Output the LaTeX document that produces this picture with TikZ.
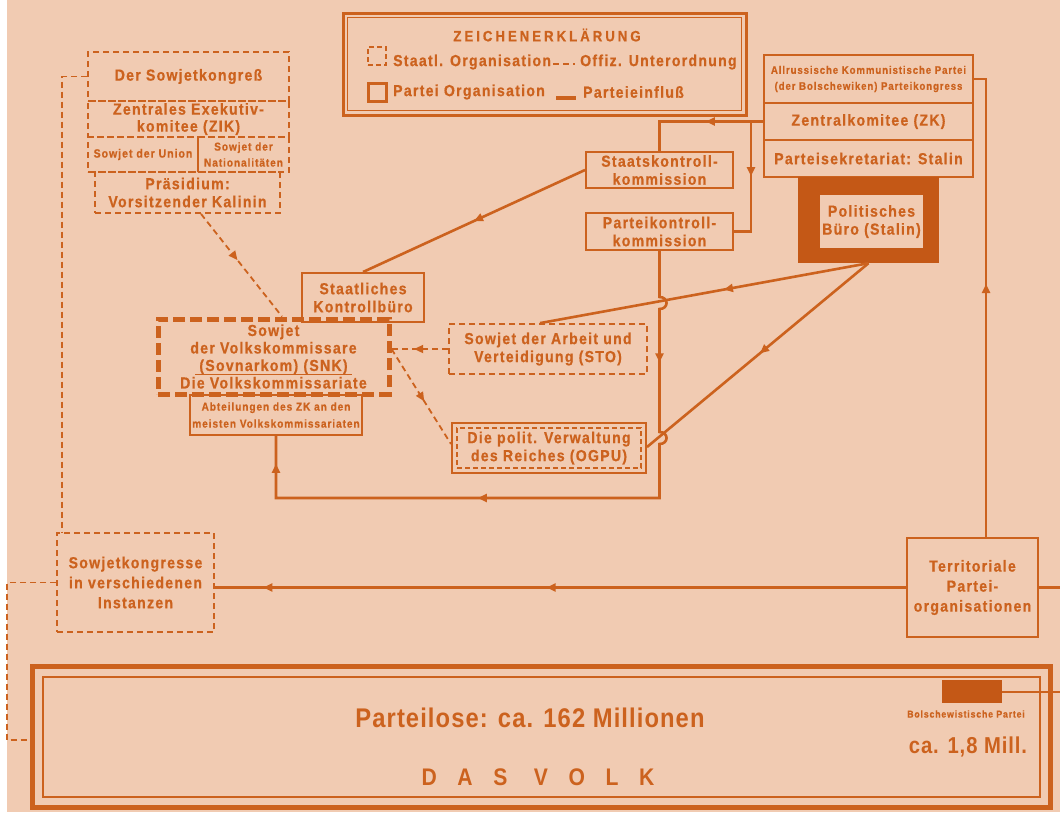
\documentclass[tikz,border=0pt]{standalone}
\usepackage{fontspec}
\setmainfont{Liberation Sans}[LetterSpace=8, FakeStretch=0.88, FakeBold=0.6]
\newfontfamily\bigf{Liberation Sans}[LetterSpace=4, FakeStretch=0.88]
\newfontfamily\volkf{Liberation Sans}[LetterSpace=86, FakeStretch=0.88]
\newfontfamily\titf{Liberation Sans}[LetterSpace=20, FakeStretch=0.88, FakeBold=0.6]
\usetikzlibrary{arrows.meta,decorations.markings,calc}
\definecolor{bg}{RGB}{241,203,178}
\definecolor{ink}{RGB}{204,98,30}
\definecolor{pbfill}{RGB}{196,88,22}
\tikzset{
 every node/.style={text=ink},
 >={Triangle[length=9pt,width=8pt]},
 wh/.style 2 args={minimum width=#1pt, minimum height=#2pt},
 mtxt/.style={font=\bfseries\fontsize{16}{18}\selectfont, align=center, inner sep=0pt},
 stxt/.style={font=\bfseries\fontsize{11}{16}\selectfont, align=center, inner sep=0pt},
 pbox/.style={draw=ink, line width=2pt, rectangle, inner sep=0pt},
 sbox/.style={draw=ink, line width=1.8pt, dash pattern=on 6pt off 4pt, rectangle, inner sep=0pt},
 pline/.style={draw=ink, line width=2.6pt},
 sline/.style={draw=ink, line width=1.8pt, dash pattern=on 6pt off 4pt},
 arrs/.style={postaction={decorate,decoration={markings,#1}}},
}
\begin{document}
\begin{tikzpicture}[x=1pt,y=-1pt]
\fill[white] (0,0) rectangle (1060,812);
\fill[bg] (7,0) rectangle (1060,812);
\useasboundingbox (0,0) rectangle (1060,812);

% ---------- legend
\node[pbox, line width=3pt, wh={403}{102}] (leg) at (544.5,64) {};
\draw[ink, line width=1.2pt] ($(leg.north west)+(6,6)$) rectangle ($(leg.south east)+(-6,-6)$);
\node[font={\titf\bfseries\fontsize{15}{18}\selectfont}] (legt) at (547,35) {ZEICHENERKLÄRUNG};
\node[sbox, dash pattern=on 5pt off 3pt, wh={18}{18}] (lsq1) at (377,56) {};
\node[mtxt, anchor=west] (l1) at (393,62) {Staatl. Organisation};
\coordinate (ld1) at (553,64); \coordinate (ld2) at (575,64);
\draw[sline] (ld1) -- (ld2);
\node[mtxt, anchor=west] (l2) at (580,62) {Offiz. Unterordnung};
\node[pbox, line width=3pt, wh={18}{18}] (lsq2) at (377,92) {};
\node[mtxt, anchor=west] (l3) at (393,92) {Partei Organisation};
\coordinate (lp1) at (556,98); \coordinate (lp2) at (576,98);
\draw[pline, line width=3.5pt] (lp1) -- (lp2);
\node[mtxt, anchor=west] (l4) at (583,92) {Parteieinfluß};

% ---------- state cluster (left)
\node[sbox, mtxt, wh={201}{49}] (kon) at (188.5,76.5) {Der Sowjetkongreß};
\node[sbox, mtxt, font=\bfseries\fontsize{16}{17}\selectfont, wh={201}{36}] (zik) at (188.5,119) {Zentrales Exekutiv-\\komitee (ZIK)};
\node[sbox, stxt, font=\bfseries\fontsize{12}{14}\selectfont, wh={110}{35}] (uni) at (143,154.5) {Sowjet der Union};
\node[sbox, stxt, font=\bfseries\fontsize{11.5}{16}\selectfont, wh={91}{35}] (nat) at (243.5,154.5) {Sowjet der\\Nationalitäten};
\node[sbox, mtxt, wh={185}{41}] (pra) at (187.5,192.5) {Präsidium:\\Vorsitzender Kalinin};

\node[sbox, mtxt, font=\bfseries\fontsize{16}{20}\selectfont, wh={157}{99}] (skg) at (135.5,582.5) {Sowjetkongresse\\in verschiedenen\\Instanzen};

\node[mtxt, draw=ink, line width=5pt, dash pattern=on 12pt off 5pt, font=\bfseries\fontsize{16}{17.5}\selectfont, wh={231}{75}] (snk) at (273.5,356.5) {Sowjet\\der Volkskommissare\\(Sovnarkom) (SNK)\\Die Volkskommissariate};
\coordinate (u1) at (195,374); \coordinate (u2) at (352,374);
\draw[ink, line width=0.8pt] (u1) -- (u2);
\node[pbox, stxt, line width=1.6pt, font=\bfseries\fontsize{11.5}{17}\selectfont, wh={172}{40}] (abt) at (276,415) {Abteilungen des ZK an den\\meisten Volkskommissariaten};
\node[pbox, mtxt, wh={122}{49}] (skb) at (363,297.5) {Staatliches\\Kontrollbüro};
\node[sbox, mtxt, wh={198}{50}] (sto) at (548,349) {Sowjet der Arbeit und\\Verteidigung (STO)};
\node[pbox, wh={194}{50}] (ogpu) at (549,448) {};
\node[sbox, line width=1.5pt, dash pattern=on 5pt off 3pt, mtxt, wh={184}{40}] (ogpui) at (549,448) {Die polit. Verwaltung\\des Reiches (OGPU)};

% ---------- party cluster (right)
\node[pbox, stxt, wh={209}{48}] (akp) at (868.5,79) {Allrussische Kommunistische Partei\\(der Bolschewiken) Parteikongress};
\node[pbox, mtxt, wh={209}{37}] (zk) at (868.5,121.5) {Zentralkomitee (ZK)};
\node[pbox, mtxt, wh={209}{37}] (sek) at (868.5,158.5) {Parteisekretariat: Stalin};
\node[fill=pbfill, rectangle, inner sep=0pt, wh={141}{86}] (pb) at (868.5,220) {};
\node[fill=bg, mtxt, wh={103}{53}] (pbi) at (871.5,221.5) {Politisches\\Büro (Stalin)};
\node[pbox, mtxt, wh={147}{36}] (sk) at (659.5,170) {Staatskontroll-\\kommission};
\node[pbox, mtxt, wh={147}{37}] (pk) at (659.5,231.5) {Parteikontroll-\\kommission};
\node[pbox, mtxt, font=\bfseries\fontsize{16}{20}\selectfont, wh={131}{99}] (terr) at (972.5,587.5) {Territoriale\\Partei-\\organisationen};

% ---------- the people
\node[pbox, line width=5pt, wh={1018}{141}] (volk) at (541,736.5) {};
\node[pbox, line width=2.5pt, wh={997}{120}] (volki) at (541.5,737) {};
\node[font={\bigf\bfseries\fontsize{27}{30}\selectfont}] (pl) at (530,718) {Parteilose: ca. 162 Millionen};
\node[font={\volkf\bfseries\fontsize{24}{26}\selectfont}] (dv) at (538,777) {DAS VOLK};
\node[fill=pbfill, rectangle, inner sep=0pt, wh={60}{23}] (bp) at (972,691.5) {};
\node[stxt, font=\bfseries\fontsize{10}{12}\selectfont] (bpt) at (966,714) {Bolschewistische Partei};
\node[font={\bigf\bfseries\fontsize{23}{24}\selectfont}] (bpn) at (968,747) {ca. 1,8 Mill.};

% ---------- connectors: state (dashed)
\coordinate (k1) at ($(kon.west)+(-25,0)$);
\draw[sline] (kon.west) -- (k1) -- (k1 |- skg.north);
\coordinate (k2) at ($(skg.west)+(-49,0)$);
\coordinate (k3) at ($(k2)+(0,157.5)$);
\draw[sline] (skg.west) -- (k2) -- (k3) -- (k3 -| volk.west);
\coordinate (p1) at ($(pra.south)+(13.5,0)$);
\coordinate (p2) at ($(snk.north)+(8.5,0)$);
\draw[sline, arrs={mark=at position 0.45 with {\arrow{>}}}] (p1) -- (p2);
\coordinate (s1) at (sto.west -| snk.east);
\draw[sline, arrs={mark=at position 0.6 with {\arrow{>}}}] (sto.west) -- (s1);
\coordinate (s2) at ($(ogpu.west)+(0,-4)$);
\draw[sline, arrs={mark=at position 0.55 with {\arrow{>}}}] (s1) -- (s2);

% ---------- connectors: party (solid)
\coordinate (z1) at (zk.west -| sk.north);
\draw[pline, arrs={mark=at position 0.43 with {\arrow{>}}}] (zk.west) -- (z1) -- (sk.north);
\coordinate (z2) at ($(zk.west)+(-12,0)$);
\draw[pline, arrs={mark=at position 0.43 with {\arrow{>}}}] (z2) -- (z2 |- pk.east) -- (pk.east);
\draw[pline, arrs={mark=at position 0.5 with {\arrow{>}}}] (sk.west) -- (skb.north);

\coordinate (h1) at ($(pk.south)+(0,46)$);
\coordinate (h2) at ($(pk.south)+(0,58)$);
\coordinate (h3) at ($(pk.south)+(0,181)$);
\coordinate (h4) at ($(pk.south)+(0,193)$);
\coordinate (h5) at ($(pk.south)+(0,247)$);
\coordinate (h6) at (h5 -| abt.south);
\draw[pline, line join=miter, arrs={mark=at position 120pt with {\arrow{>}}, mark=at position 446pt with {\arrow{>}}, mark=at position -28pt with {\arrow{>}}}]
  (pk.south) -- (h1) to[out=0,in=0,looseness=2] (h2) -- (h3) to[out=0,in=0,looseness=2] (h4) -- (h5) -- (h6) -- (abt.south);

\coordinate (b1) at ($(sto.north)+(-8,0)$);
\draw[pline, arrs={mark=at position 0.44 with {\arrow{>}}}] (pb.south) -- (b1);
\coordinate (b2) at ($(ogpu.east)+(0,-1)$);
\draw[pline, arrs={mark=at position 0.49 with {\arrow{>}}}] (pb.south) -- (b2);

\draw[pline, arrs={mark=at position 0.52 with {\arrow{>}}, mark=at position 0.93 with {\arrow{>}}}] (terr.west) -- (terr.west -| skg.east);
\coordinate (t1) at ($(terr.north)+(13.5,0)$);
\coordinate (t2) at (t1 |- akp.east);
\draw[pline, line join=miter, arrs={mark=at position 253pt with {\arrow{>}}}] (t1) -- (t2) -- (akp.east);
\coordinate (e1) at (1060,587.5);
\draw[pline] (terr.east) -- (e1);
\coordinate (e2) at (1060,691.5);
\draw[ink, line width=2pt] (bp.east) -- (e2);
\end{tikzpicture}
\end{document}
